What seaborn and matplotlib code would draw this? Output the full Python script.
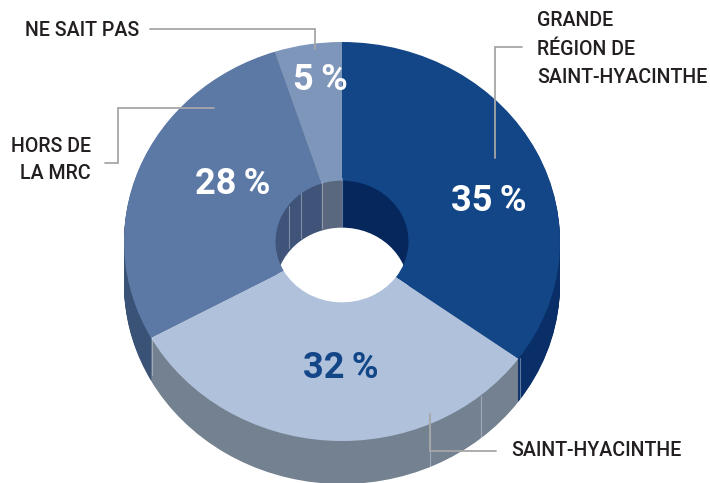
import matplotlib
matplotlib.use("Agg")
import matplotlib.pyplot as plt
from matplotlib.patches import Circle
import seaborn as sns

sns.set_theme(style="white")
plt.rcParams["font.family"] = ["Roboto", "DejaVu Sans"]

# data
categories = ["Grande région de Saint-Hyacinthe", "Saint-Hyacinthe", "Hors de la MRC", "Ne sait pas"]
values = [35, 32, 28, 5]
top_colors = ["#134687", "#afc1db", "#5c79a6", "#7f96bb"]
wall_colors = ["#0a2f68", "#748190", "#3b5277", "#59687f"]
hole_colors = ["#05275c", "#748190", "#3f5478", "#59687f"]
pct_colors = ["white", "#134687", "white", "white"]

W, H = 710, 483
CX, CY = 342, 241.5
RX, RY = 218, 199.5
HOLE = 66.5
DEPTH = 43
HOLE_DEPTH = 48
K = RX / RY  # vertical stretch of data units: circles in data become ellipses


def yd(py):
    return (H - py) * K


fig = plt.figure(figsize=(W / 100, H / 100), dpi=100)
ax = fig.add_axes([0, 0, 1, 1])


def pie(colors, radius, offset=0, width=None):
    wp = {"linewidth": 0}
    if width is not None:
        wp["width"] = width
    wedges, _ = ax.pie(values, colors=colors, startangle=90, counterclock=False,
                       radius=radius, center=(CX, yd(CY + offset)), wedgeprops=wp, frame=True)
    return wedges


# outer side wall
for d in range(DEPTH, 0, -1):
    pie(wall_colors, RX, offset=d)

# hole inner wall: the top face, drawn later, masks everything outside the hole
for d in range(0, HOLE_DEPTH + 1):
    pie(hole_colors, HOLE, offset=d - 1)
ax.add_patch(Circle((CX, yd(CY - 1 + HOLE_DEPTH)), HOLE, fc="white", ec="none"))

# top face
pie(top_colors, RX, width=RX - HOLE)

ax.set_aspect("auto")
ax.set_xlim(0, W)
ax.set_ylim(0, H * K)
ax.axis("off")

# faint seams on the walls
seams = [
    (481, 396, 437), (430, 425, 467), (520, 358, 398), (152, 338, 375),
    (288.5, 206, 248), (300.5, 193, 238), (322, 182, 228), (342, 178, 227),
]
for x, y0, y1 in seams:
    ax.plot([x, x], [yd(y0), yd(y1)], color="#dfe6ef", lw=0.8, alpha=0.4, zorder=2)

# leader lines
leader = dict(color="#a6a6a6", lw=1.3, solid_joinstyle="miter", zorder=3)
lines = [
    ([522, 495, 495], [47, 47, 158]),
    ([430, 430, 496], [414, 451, 451]),
    ([214, 118, 118, 105], [108, 108, 163, 163]),
    ([150, 315, 315], [29, 29, 49]),
]
for xs, ys in lines:
    ax.plot(xs, [yd(y) for y in ys], **leader)

# percent labels
pct_pos = [(488.5, 201), (341, 368), (233, 184), (320, 80)]
for v, c, (x, y) in zip(values, pct_colors, pct_pos):
    ax.text(x, yd(y), f"{v}\u2009%", color=c, ha="center", va="center",
            fontsize=26, fontweight="bold", zorder=4)

# category labels
lab = dict(color="#231f20", fontsize=14.1, fontweight="medium", va="center", zorder=4)
ax.text(537, yd(49), "GRANDE\nRÉGION DE\nSAINT-HYACINTHE", ha="left", linespacing=1.65, **lab)
ax.text(511, yd(451), "SAINT-HYACINTHE", ha="left", **lab)
ax.text(91, yd(160), "HORS DE\nLA MRC", ha="right", multialignment="right", linespacing=1.5, **lab)
ax.text(139, yd(30), "NE SAIT PAS", ha="right", **lab)

fig.savefig("out.png", dpi=100)
